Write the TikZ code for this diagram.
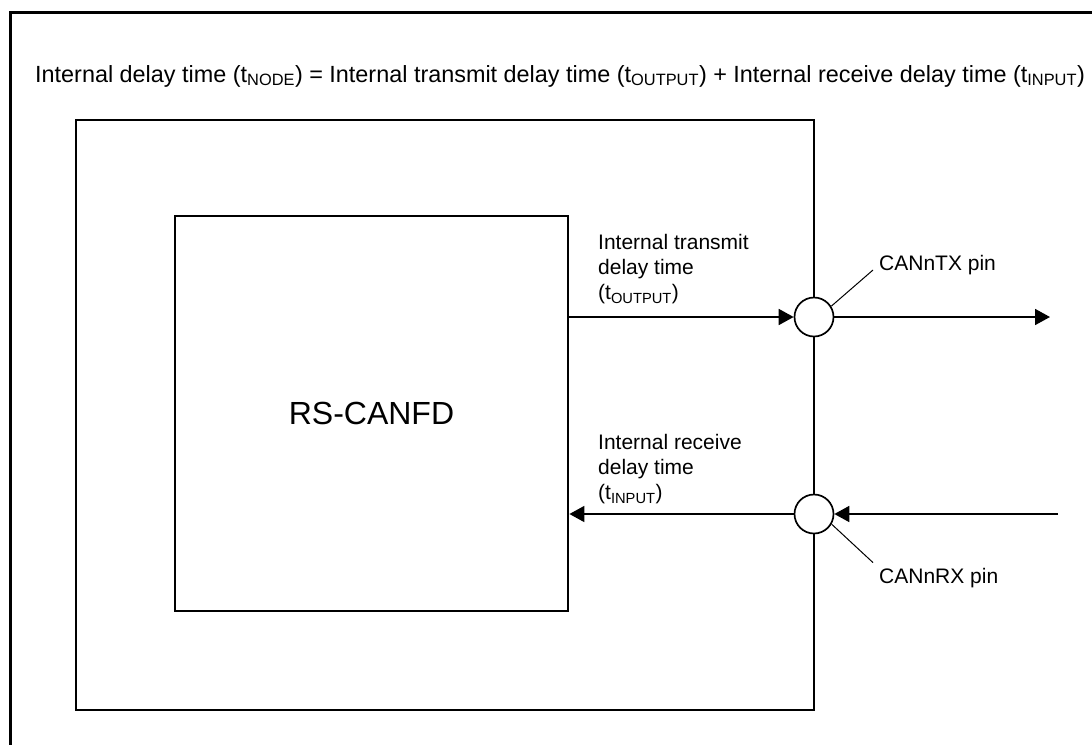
\documentclass[tikz,border=0pt]{standalone}
\usepackage{fontspec}
\setmainfont{Liberation Sans}
\usetikzlibrary{arrows.meta}

\tikzset{
  box/.style={draw,line width=2.8pt,inner sep=0pt},
  portc/.style={draw,circle,fill=white,line width=1.7pt,minimum size=39pt,inner sep=0pt},
  sig/.style={line width=1.8pt,-{Triangle[length=15pt,width=16pt]}},
  lead/.style={line width=1pt},
  lbl/.style={inner sep=0pt,font=\fontsize{21}{25}\selectfont,align=left},
}

\begin{document}
\begin{tikzpicture}[x=1pt,y=-1pt]
  \useasboundingbox (0,0) rectangle (1092,745);
  % outer frame (cut off right and bottom)
  \draw[line width=3pt] (1092,12) -- (10,12) -- (10,745);
  \node[lbl,font=\fontsize{23.4}{28}\selectfont,anchor=base west] (title) at (35,82)
    {Internal delay time (t\textsubscript{NODE}) = Internal transmit delay time (t\textsubscript{OUTPUT}) + Internal receive delay time (t\textsubscript{INPUT})};
  \node[box,minimum width=738pt,minimum height=590pt] (chip) at (445,415) {};
  \node[box,minimum width=393pt,minimum height=395pt,font=\fontsize{32}{38}\selectfont] (canfd) at (371.5,413.5) {RS-CANFD};
  \node[portc] (tx) at (814,317) {};
  \node[portc] (rx) at (814,514) {};
  \coordinate (txout) at (1050,317);
  \coordinate (rxin) at (1058,514);
  % signal paths
  \draw[sig] (canfd.east |- tx) -- (tx.west);
  \draw[sig] (tx.east) -- (txout);
  \draw[sig] (rxin) -- (rx.east);
  \draw[sig] (rx.west) -- (canfd.east |- rx);
  \node[lbl,anchor=north west] (txdelay) at (598,234.5) {Internal transmit\\delay time\\(t\textsubscript{OUTPUT})};
  \node[lbl,anchor=north west] (rxdelay) at (598,434.5) {Internal receive\\delay time\\(t\textsubscript{INPUT})};
  \node[lbl,anchor=base west] (txpin) at (879,270) {CANnTX pin};
  \node[lbl,anchor=base west] (rxpin) at (879,583) {CANnRX pin};
  \draw[lead] (tx.32) -- ([xshift=-6pt]txpin.base west);
  \draw[lead] (rx.-30) -- ([shift={(-6pt,5pt)}]rxpin.north west);
\end{tikzpicture}
\end{document}
